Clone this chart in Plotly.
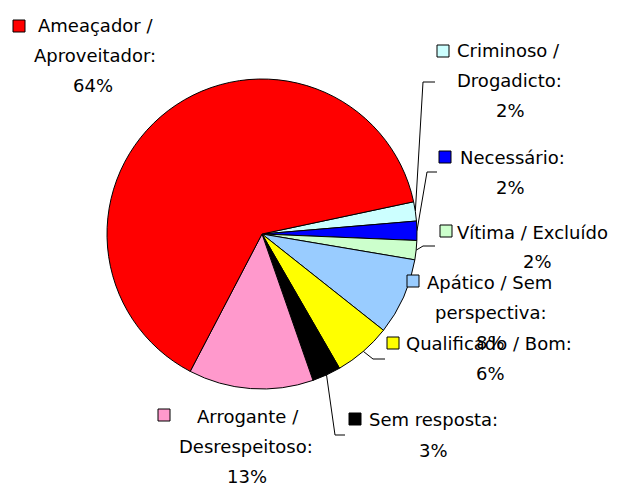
import math
import plotly.graph_objects as go

# ---- data (clockwise order, starting just above 3 o'clock) ----
categories = ["Criminoso / Drogadicto", "Necessário", "Vítima / Excluído",
              "Apático / Sem perspectiva", "Qualificado / Bom", "Sem resposta",
              "Arrogante / Desrespeitoso", "Ameaçador / Aproveitador"]
values = [2, 2, 2, 8, 6, 3, 13, 64]
label_lines = [["Criminoso /", "Drogadicto:"],
               ["Necessário:"],
               ["Vítima / Excluído:"],
               ["Apático / Sem", "perspectiva:"],
               ["Qualificado / Bom:"],
               ["Sem resposta:"],
               ["Arrogante /", "Desrespeitoso:"],
               ["Ameaçador /", "Aproveitador:"]]
colors = ["#CCFFFF", "#0000FF", "#CCFFCC", "#99CCFF", "#FFFF00", "#000000",
          "#FF99CC", "#FF0000"]

# ---- layout (screen pixel positions) ----
W, H = 617, 484
OFF = 8            # page body margin offset
CX, CY, R = 262, 234, 155
ROT = 78
FONT = dict(family="DejaVu Sans", size=18, color="#000000")

label_pos = [
    dict(xs=[508, 509, 510], y0=50, dy=30, sq=(437, 45)),
    dict(xs=[512, 510], y0=157, dy=30, sq=(439, 151)),
    dict(xs=[535, 537], y0=232, dy=29, sq=(440, 225)),
    dict(xs=[489, 490, 490], y0=282, dy=30, sq=(407, 275)),
    dict(xs=[489, 490], y0=343, dy=30, sq=(387, 337)),
    dict(xs=[433, 433], y0=419, dy=31, sq=(349, 413)),
    dict(xs=[248, 246, 247], y0=416, dy=30, sq=(158, 409)),
    dict(xs=[95, 94.5, 93], y0=25, dy=30, sq=(13, 20)),
]
SQ = 12
leaders = [
    [(423, 82), (435, 82)],
    [(427, 172), (437, 172)],
    [(423, 246), (435, 246)],
    None,
    [(373, 359), (385, 359)],
    [(335, 435), (345, 435)],
    None,
    None,
]

fig = go.Figure()

fcx, fcy = CX - OFF, CY - OFF
fig.add_trace(go.Pie(
    labels=categories, values=values, sort=False, direction="clockwise",
    rotation=ROT, textinfo="none", hoverinfo="label+percent",
    marker=dict(colors=colors, line=dict(color="#000000", width=1)),
    domain=dict(x=[(fcx - R) / W, (fcx + R) / W],
                y=[(H - fcy - R) / H, (H - fcy + R) / H]),
    showlegend=False,
))

total = sum(values)
cum = 0.0
annotations = []
shapes = []
for i, v in enumerate(values):
    mid = ROT + (cum + v / 2) / total * 360.0
    cum += v
    pos = label_pos[i]
    pct = f"{round(v / total * 100)}%"
    lines = label_lines[i] + [pct]
    for j, t in enumerate(lines):
        annotations.append(dict(
            x=pos["xs"][j], y=pos["y0"] + j * pos["dy"], xref="x", yref="y",
            text=t, showarrow=False, xanchor="center", yanchor="middle",
            font=FONT))
    sx, sy = pos["sq"]
    shapes.append(dict(type="rect", xref="x", yref="y", x0=sx, y0=sy,
                       x1=sx + SQ, y1=sy + SQ, fillcolor=colors[i],
                       line=dict(color="#000000", width=1)))
    if leaders[i]:
        a = math.radians(mid)
        start = (CX + R * math.sin(a), CY - R * math.cos(a))
        pts = [start] + leaders[i]
        fig.add_trace(go.Scatter(
            x=[p[0] for p in pts], y=[p[1] for p in pts], mode="lines",
            line=dict(color="#000000", width=1), hoverinfo="skip",
            showlegend=False))

fig.update_layout(
    width=W, height=H, margin=dict(l=0, r=0, t=0, b=0),
    paper_bgcolor="#FFFFFF", plot_bgcolor="rgba(0,0,0,0)",
    xaxis=dict(range=[OFF, W + OFF], visible=False, domain=[0, 1], fixedrange=True),
    yaxis=dict(range=[H + OFF, OFF], visible=False, domain=[0, 1], fixedrange=True),
    annotations=annotations, shapes=shapes, showlegend=False,
)

fig.write_html("out.html")
